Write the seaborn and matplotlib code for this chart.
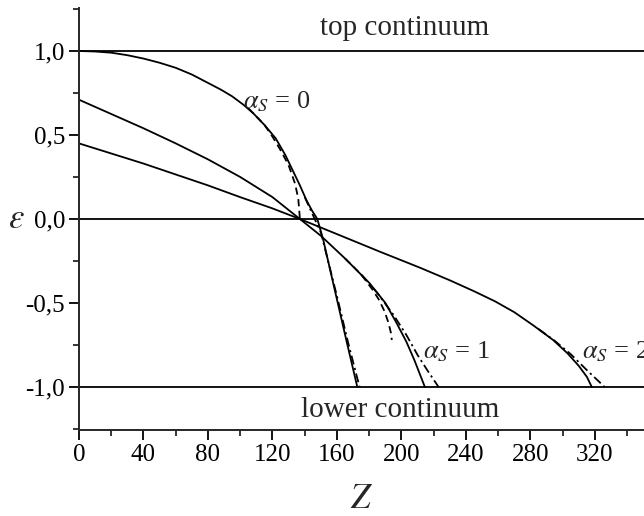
import matplotlib
matplotlib.use("Agg")
import matplotlib.pyplot as plt
import seaborn as sns
import pandas as pd
from matplotlib.ticker import MultipleLocator, FuncFormatter

# ---- data ----
z_a0 = [0, 10, 20, 30, 40, 50, 60, 70, 80, 88, 95, 102, 108, 115, 122, 128, 133, 137, 141, 144.5, 147.8, 151.5, 160, 166, 172.6]
e_a0 = [1.0, 0.997, 0.99, 0.975, 0.955, 0.93, 0.90, 0.86, 0.81, 0.77, 0.73, 0.68, 0.63, 0.56, 0.48, 0.38, 0.28, 0.20, 0.113, 0.05, 0.0, -0.125, -0.48, -0.73, -1.0]

z_a0_point = [105, 115, 120, 125, 130, 134, 136, 137]
e_a0_point = [0.66, 0.56, 0.49, 0.41, 0.32, 0.21, 0.12, 0.0]

z_a0_dd = [140, 150, 160, 167, 174]
e_a0_dd = [0.13, -0.08, -0.46, -0.74, -1.0]

z_a1 = [0, 20, 40, 60, 80, 100, 120, 137, 150, 165, 180, 190, 197, 203, 208, 214.5]
e_a1 = [0.71, 0.625, 0.54, 0.45, 0.355, 0.25, 0.13, 0.0, -0.10, -0.235, -0.38, -0.50, -0.62, -0.73, -0.84, -1.0]

z_a1_point = [165, 175, 182, 186, 189.5, 192, 193.5, 194]
e_a1_point = [-0.235, -0.33, -0.42, -0.48, -0.55, -0.62, -0.68, -0.72]

z_a1_dd = [175, 185, 195, 203, 210, 216, 223]
e_a1_dd = [-0.33, -0.44, -0.57, -0.69, -0.81, -0.90, -1.0]

z_a2 = [0, 20, 40, 60, 80, 100, 120, 137, 160, 186.7, 211.5, 230, 245, 258, 270, 282, 294, 303, 310, 315, 318]
e_a2 = [0.45, 0.39, 0.33, 0.265, 0.20, 0.13, 0.063, 0.0, -0.09, -0.195, -0.29, -0.365, -0.43, -0.49, -0.555, -0.635, -0.72, -0.80, -0.875, -0.94, -1.0]

z_a2_dd = [285, 295, 305, 315, 326]
e_a2_dd = [-0.655, -0.725, -0.805, -0.90, -1.0]

levels = [1.0, 0.0, -1.0]
x_ticks = [0, 40, 80, 120, 160, 200, 240, 280, 320]
y_ticks = [-1.0, -0.5, 0.0, 0.5, 1.0]

labels = ["$\\alpha_S$ = 0", "$\\alpha_S$ = 1", "$\\alpha_S$ = 2"]
label_pos = [(101.5, 0.66), (213.5, -0.83), (312.0, -0.83)]

# ---- style ----
sns.set_style("ticks")
plt.rcParams["font.family"] = ["Liberation Serif", "DejaVu Serif"]
plt.rcParams["mathtext.fontset"] = "stix"
plt.rcParams["axes.linewidth"] = 1.4

fig = plt.figure(figsize=(6.44, 5.16), dpi=100)
ax = fig.add_axes([79 / 644, 86 / 516, 1 - 79 / 644, (430 - 8) / 516])

lw = 1.3
dash = (0, (4, 2.5))
dashdot = (0, (5, 2, 1.2, 2))

for lev in levels:
    ax.axhline(lev, color="k", lw=lw)

def draw(z, e, ls):
    df = pd.DataFrame({"Z": z, "eps": e})
    sns.lineplot(data=df, x="Z", y="eps", ax=ax, color="k", lw=lw,
                 sort=False, estimator=None, linestyle=ls)

draw(z_a0, e_a0, "-")
draw(z_a0_point, e_a0_point, dash)
draw(z_a0_dd, e_a0_dd, dashdot)
draw(z_a1, e_a1, "-")
draw(z_a1_point, e_a1_point, dash)
draw(z_a1_dd, e_a1_dd, dashdot)
draw(z_a2, e_a2, "-")
draw(z_a2_dd, e_a2_dd, dashdot)

for txt, (x, y) in zip(labels, label_pos):
    ax.text(x, y, txt, fontsize=19, ha="left", va="baseline")

ax.text(202, 1.137, "top continuum", fontsize=21, ha="center", va="center")
ax.text(199, -1.137, "lower continuum", fontsize=21, ha="center", va="center")

ax.set_xlim(0, 350.4)
ax.set_ylim(-1.256, 1.256)
ax.set_xticks(x_ticks)
ax.set_yticks(y_ticks)
ax.xaxis.set_minor_locator(MultipleLocator(20))
ax.yaxis.set_minor_locator(MultipleLocator(0.25))
ax.yaxis.set_major_formatter(FuncFormatter(lambda v, p: f"{v:.1f}".replace(".", ",")))
ax.tick_params(which="major", direction="out", length=7, width=1.3, labelsize=18, pad=3, colors="k")
ax.tick_params(which="minor", direction="out", length=4, width=1.3)
sns.despine(ax=ax, top=True, right=True)

ax.set_xlabel("$Z$", fontsize=25)
ax.set_ylabel("$\\varepsilon$", fontsize=25, rotation=0)
ax.xaxis.set_label_coords(0.5, -(500 - 430) / 422)
ax.xaxis.label.set_va("center")
ax.yaxis.set_label_coords((16 - 79) / 565, 0.5)
ax.yaxis.label.set_va("center")
ax.yaxis.label.set_ha("center")

fig.savefig("out.png", dpi=100)
